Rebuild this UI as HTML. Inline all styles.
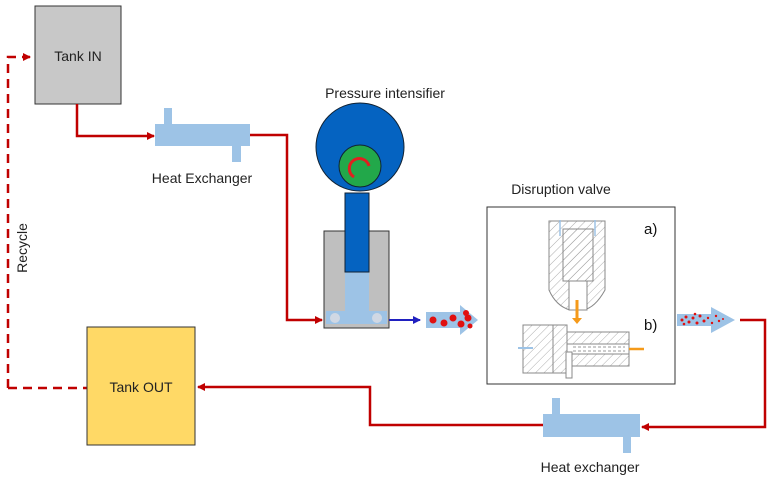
<!DOCTYPE html>
<html><head><meta charset="utf-8"><style>
body{margin:0;background:#fff;}
svg{display:block;font-family:"Liberation Sans",Arial,sans-serif;}
</style></head><body>
<svg width="771" height="483" viewBox="0 0 771 483" xmlns="http://www.w3.org/2000/svg">
<defs>
<marker id="ar" markerWidth="8" markerHeight="8" refX="7" refY="4" orient="auto" markerUnits="userSpaceOnUse"><path d="M0,0 L8,4 L0,8 Z" fill="#c00000"/></marker>
<marker id="ab" markerWidth="8" markerHeight="8" refX="7" refY="4" orient="auto" markerUnits="userSpaceOnUse"><path d="M0,0 L8,4 L0,8 Z" fill="#2020c0"/></marker>
<pattern id="h" width="6" height="6" patternUnits="userSpaceOnUse" patternTransform="rotate(45)"><line x1="0" y1="0" x2="0" y2="6" stroke="#999" stroke-width="0.8"/></pattern>
</defs>
<path d="M8,388 L8,57 L30,57" fill="none" stroke="#c00000" stroke-width="2.5" stroke-dasharray="9,6" marker-end="url(#ar)"/>
<path d="M8,388 L87,388" fill="none" stroke="#c00000" stroke-width="2.5" stroke-dasharray="9,6"/>
<text x="27" y="248" font-size="14" transform="rotate(-90 27 248)" text-anchor="middle" fill="#222">Recycle</text>
<rect x="35" y="6" width="86" height="98" fill="#c8c8c8" stroke="#333" stroke-width="1"/>
<text x="78" y="61" font-size="14" text-anchor="middle" fill="#222">Tank IN</text>
<path d="M77,104 L77,136 L154,136" fill="none" stroke="#c00000" stroke-width="2.5" marker-end="url(#ar)"/>
<rect x="155" y="124" width="95" height="22" fill="#9dc3e6"/>
<rect x="164" y="108" width="8" height="16" fill="#9dc3e6"/>
<rect x="232" y="146" width="9" height="16" fill="#9dc3e6"/>
<text x="202" y="183" font-size="14" text-anchor="middle" fill="#222">Heat Exchanger</text>
<path d="M250,135 L287,135 L287,320 L322,320" fill="none" stroke="#c00000" stroke-width="2.5" marker-end="url(#ar)"/>
<text x="385" y="98" font-size="14" text-anchor="middle" fill="#222">Pressure intensifier</text>
<rect x="324" y="231" width="65" height="97" fill="#bfbfbf" stroke="#333" stroke-width="1"/>
<rect x="345" y="272" width="24" height="40" fill="#9dc3e6"/>
<rect x="326" y="311" width="61" height="13" fill="#9dc3e6"/>
<circle cx="335" cy="318" r="5" fill="#d0d8e4"/>
<circle cx="377" cy="318" r="5" fill="#d0d8e4"/>
<rect x="345" y="193" width="24" height="79" fill="#0563c1" stroke="#123" stroke-width="1"/>
<circle cx="360" cy="147" r="44" fill="#0563c1" stroke="#123" stroke-width="1"/>
<circle cx="360" cy="166" r="21" fill="#22a84a" stroke="#123" stroke-width="1"/>
<path d="M369,166 A10,10 0 1 0 354,177" fill="none" stroke="#e02020" stroke-width="3"/>
<path d="M389,320 L420,320" fill="none" stroke="#2020c0" stroke-width="2" marker-end="url(#ab)"/>
<path d="M426,312 L460,312 L460,305 L478,320 L460,335 L460,328 L426,328 Z" fill="#9dc3e6"/>
<g fill="#e01010"><circle cx="433" cy="320" r="3.5"/><circle cx="444" cy="323" r="3.5"/><circle cx="453" cy="318" r="3.5"/><circle cx="461" cy="324" r="3.5"/><circle cx="468" cy="318" r="3.5"/><circle cx="466" cy="313" r="3"/><circle cx="470" cy="326" r="2.5"/></g>
<text x="561" y="194" font-size="14" text-anchor="middle" fill="#222">Disruption valve</text>
<rect x="487" y="207" width="188" height="177" fill="#fff" stroke="#333" stroke-width="1"/>
<text x="644" y="234" font-size="15" fill="#111">a)</text>
<text x="644" y="330" font-size="15" fill="#111">b)</text>
<path d="M549,221 L605,221 L605,290 Q595,308 583,310 L570,310 Q556,306 549,290 Z" fill="url(#h)" stroke="#888" stroke-width="1"/>
<rect x="563" y="229" width="30" height="52" fill="url(#h)" stroke="#888"/>
<rect x="569" y="281" width="18" height="29" fill="#fff" stroke="#888"/>
<line x1="560" y1="220" x2="560" y2="236" stroke="#9dc3e6" stroke-width="1.5"/>
<line x1="595" y1="220" x2="595" y2="236" stroke="#9dc3e6" stroke-width="1.5"/>
<path d="M577,300 L577,320" stroke="#f59a1a" stroke-width="3"/>
<path d="M572,318 L577,324 L582,318 Z" fill="#f59a1a"/>
<rect x="523" y="325" width="30" height="48" fill="url(#h)" stroke="#888"/>
<rect x="553" y="325" width="14" height="48" fill="url(#h)" stroke="#888"/>
<rect x="567" y="332" width="62" height="34" fill="url(#h)" stroke="#888"/>
<rect x="567" y="344" width="62" height="10" fill="#fff" stroke="#888"/>
<rect x="566" y="352" width="6" height="26" fill="#fff" stroke="#888"/>
<line x1="573" y1="347" x2="625" y2="347" stroke="#999" stroke-dasharray="3,2"/>
<line x1="573" y1="351" x2="625" y2="351" stroke="#999" stroke-dasharray="3,2"/>
<line x1="518" y1="348" x2="533" y2="348" stroke="#9dc3e6" stroke-width="2"/>
<line x1="629" y1="349" x2="644" y2="349" stroke="#f59a1a" stroke-width="2.5"/>
<path d="M677,314 L711,314 L711,307 L735,320 L711,333 L711,326 L677,326 Z" fill="#9dc3e6"/>
<g fill="#e01010"><circle cx="682" cy="320" r="1.5"/><circle cx="686" cy="317" r="1.5"/><circle cx="689" cy="322" r="1.5"/><circle cx="693" cy="318" r="1.5"/><circle cx="697" cy="323" r="1.5"/><circle cx="700" cy="316" r="1.5"/><circle cx="704" cy="321" r="1.5"/><circle cx="708" cy="318" r="1.2"/><circle cx="712" cy="323" r="1.2"/><circle cx="716" cy="316" r="1.2"/><circle cx="719" cy="321" r="1.2"/><circle cx="684" cy="324" r="1.3"/><circle cx="695" cy="314" r="1.3"/><circle cx="723" cy="319" r="1"/></g>
<path d="M740,320 L765,320 L765,427 L642,427" fill="none" stroke="#c00000" stroke-width="2.5" marker-end="url(#ar)"/>
<rect x="543" y="414" width="97" height="23" fill="#9dc3e6"/>
<rect x="552" y="398" width="8" height="16" fill="#9dc3e6"/>
<rect x="623" y="437" width="8" height="16" fill="#9dc3e6"/>
<text x="590" y="472" font-size="14" text-anchor="middle" fill="#222">Heat exchanger</text>
<path d="M543,425 L370,425 L370,387 L198,387" fill="none" stroke="#c00000" stroke-width="2.5" marker-end="url(#ar)"/>
<rect x="87" y="327" width="108" height="118" fill="#ffd966" stroke="#333" stroke-width="1"/>
<text x="141" y="392" font-size="14" text-anchor="middle" fill="#222">Tank OUT</text>
</svg>
</body></html>
